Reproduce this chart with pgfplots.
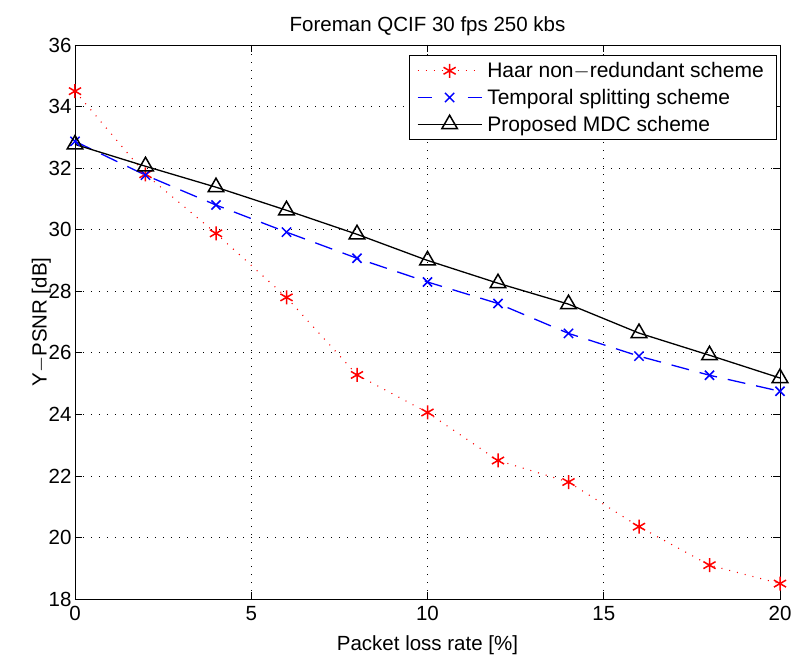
\documentclass[border=0pt]{standalone}
\usepackage{pgfplots}
\pgfplotsset{compat=1.18}
\usepackage{fontspec}
\setmainfont{Liberation Sans}
\begin{document}
\begin{tikzpicture}
\useasboundingbox (-75pt,-60pt) rectangle (718pt,599pt);
\begin{axis}[
  at={(0pt,0pt)}, anchor=south west,
  scale only axis,
  width=705pt, height=554pt,
  xmin=0, xmax=20, ymin=18, ymax=36,
  xtick={0,5,10,15,20}, ytick={18,20,...,36},
  grid=major,
  major grid style={black, line width=0.7pt, dash pattern=on 1pt off 7pt},
  tick align=inside,
  major tick length=7pt,
  tick style={black, line width=0.7pt},
  axis line style={black, line width=0.9pt},
  /pgf/number format/assume math mode=true,
  tick label style={font=\fontsize{20.5}{24}\selectfont},
  xticklabel style={yshift=-4pt},
  label style={font=\fontsize{20.5}{24}\selectfont},
  title style={font=\fontsize{20.5}{24}\selectfont, yshift=0pt},
  title={Foreman QCIF 30 fps 250 kbs},
  xlabel={Packet loss rate [\%]},
  ylabel={Y$-$PSNR [dB]},
  xlabel style={yshift=-8pt},
  ylabel style={yshift=-9pt},
  legend style={at={(0.996,0.982)}, anchor=north east, draw=black, line width=0.9pt,
    font=\fontsize{21}{24}\selectfont, inner xsep=8pt, inner ysep=5pt, row sep=6pt,
    cells={anchor=west}, nodes={inner xsep=5pt}},
  legend cell align=left,
  legend image code/.code={\draw[mark repeat=2,mark phase=2] plot coordinates {(0pt,0pt) (32pt,0pt) (64pt,0pt)};},
]
\addplot[red, line width=1.1pt, dash pattern=on 1pt off 7pt, mark=asterisk, mark size=7pt, mark options={solid, line width=1.5pt}]
coordinates {(0,34.5) (2,31.8) (4,29.88) (6,27.8) (8,25.28) (10,24.06) (12,22.5) (14,21.8) (16,20.35) (18,19.1) (20,18.5)};
\addlegendentry{Haar non$-$redundant scheme}
\addplot[blue, line width=1.3pt, dash pattern=on 18pt off 11pt, mark=x, mark size=6.5pt, mark options={solid, line width=1.5pt},
  legend image post style={dash pattern=on 14pt off 36pt}]
coordinates {(0,32.87) (2,31.77) (4,30.8) (6,29.92) (8,29.07) (10,28.3) (12,27.6) (14,26.63) (16,25.89) (18,25.27) (20,24.75)};
\addlegendentry{Temporal splitting scheme}
\addplot[black, line width=1.3pt, mark=triangle, mark size=9pt, mark options={solid, line width=1.5pt}]
coordinates {(0,32.77) (2,32.06) (4,31.38) (6,30.63) (8,29.85) (10,29.0) (12,28.26) (14,27.58) (16,26.64) (18,25.92) (20,25.18)};
\addlegendentry{Proposed MDC scheme}
\end{axis}
\end{tikzpicture}
\end{document}
